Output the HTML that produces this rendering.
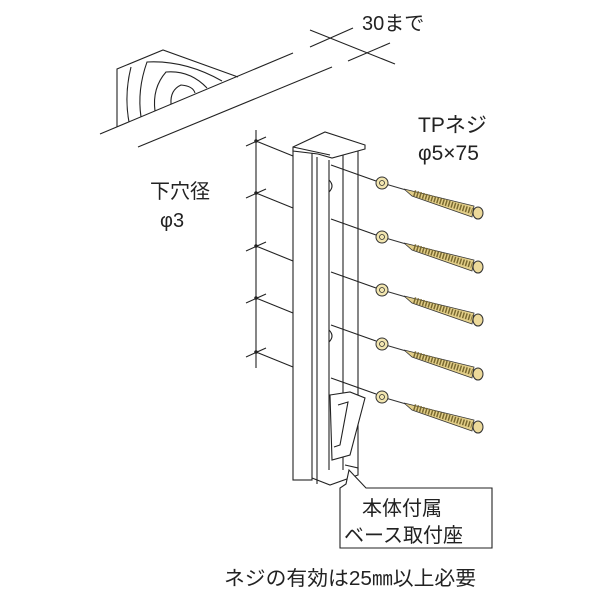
<!DOCTYPE html>
<html><head><meta charset="utf-8"><style>
body{margin:0;background:#fff;width:600px;height:600px;overflow:hidden}
svg{display:block}
text{font-family:"Liberation Sans","Noto Sans CJK JP",sans-serif;fill:#222}
</style></head><body>
<svg width="600" height="600" viewBox="0 0 600 600" xmlns="http://www.w3.org/2000/svg">
<defs>
<g id="scr">
  <line x1="0" y1="0" x2="24" y2="7" stroke="#333" stroke-width="1"/>
  <circle cx="0" cy="0" r="6" fill="#f2e6b0" stroke="#333" stroke-width="1"/>
  <circle cx="0" cy="0" r="2.5" fill="none" stroke="#333" stroke-width="0.8"/>
  <polygon points="22,6 92,23 90,34 30,13" fill="#e3cf8a" stroke="#333" stroke-width="0.8"/>
  <path d="M32,10 L90,28" stroke="#7a6a30" stroke-width="6" stroke-dasharray="1.5 1.5"/>
  <ellipse cx="96" cy="30" rx="5" ry="6" fill="#ecd99a" stroke="#333" stroke-width="1"/>
</g>
</defs>
<g stroke="#222" stroke-width="1.1" fill="none">
<line x1="100" y1="134" x2="293" y2="53"/>
<line x1="138" y1="147" x2="332" y2="67"/>
<polyline points="117,127 117,69 163,50 238,77"/>
<path d="M129,122 Q124,95 131,67"/>
<path d="M141,117 Q137,90 147,62 Q185,60 222,81"/>
<path d="M155,111 Q152,88 166,72 Q190,70 207,88"/>
<path d="M171,104 Q170,90 181,85 Q193,86 195,93"/>
<line x1="310" y1="47" x2="353" y2="28"/>
<line x1="348" y1="61" x2="390" y2="43"/>
<line x1="310" y1="30" x2="395" y2="64"/>
<line x1="256" y1="130" x2="256" y2="368"/>
<g>
<line x1="246" y1="146" x2="266" y2="137"/><line x1="256" y1="141" x2="293" y2="156"/>
<line x1="246" y1="198" x2="266" y2="189"/><line x1="256" y1="193" x2="293" y2="208"/>
<line x1="246" y1="251" x2="266" y2="242"/><line x1="256" y1="246" x2="293" y2="261"/>
<line x1="246" y1="303" x2="266" y2="294"/><line x1="256" y1="298" x2="293" y2="313"/>
<line x1="246" y1="357" x2="266" y2="348"/><line x1="256" y1="352" x2="293" y2="367"/>
</g>
<g fill="#222" stroke="none">
<circle cx="256" cy="141" r="1.8"/><circle cx="256" cy="193" r="1.8"/><circle cx="256" cy="246" r="1.8"/><circle cx="256" cy="298" r="1.8"/><circle cx="256" cy="352" r="1.8"/>
</g>
<rect x="293" y="150" width="19" height="330" fill="#fff"/>
<line x1="317" y1="157" x2="317" y2="484"/>
<line x1="329" y1="160" x2="329" y2="470"/>
<line x1="343" y1="154" x2="343" y2="470"/>
<line x1="358" y1="148" x2="358" y2="470"/>
<path d="M293,147 L325,132 L365,145 L365,149 L332,158 L318,154 L293,151 Z" fill="#fff"/>
<line x1="293" y1="147" x2="330" y2="155"/>
<path d="M329,180 q6,6 0,12 M329,330 q6,6 0,12"/>
<path d="M330,395 L350,392 L365,398 L350,455 L332,460 Z" fill="#fff"/>
<path d="M338,405 L348,402 L340,445 L334,447"/>
<path d="M312,478 L330,485 L358,475 L358,468 L345,465"/>
<line x1="331" y1="165" x2="376" y2="181"/>
<line x1="331" y1="219" x2="376" y2="235"/>
<line x1="331" y1="272" x2="376" y2="288"/>
<line x1="331" y1="325" x2="376" y2="341"/>
<line x1="331" y1="378" x2="376" y2="394"/>
<path d="M349,470 L346,484 L340,488 L340,548 L492,548 L492,488 L366,488 Z" fill="#fff"/>
</g>
<use href="#scr" x="382" y="183"/>
<use href="#scr" x="382" y="237"/>
<use href="#scr" x="382" y="290"/>
<use href="#scr" x="382" y="344"/>
<use href="#scr" x="382" y="397"/>
<text x="362" y="30" font-size="20">30まで</text>
<text x="418" y="132" font-size="21">TPネジ</text>
<text x="418" y="160" font-size="21">φ5×75</text>
<text x="150" y="198" font-size="20">下穴径</text>
<text x="160" y="227" font-size="20">φ3</text>
<text x="362" y="515" font-size="20">本体付属</text>
<text x="344" y="542" font-size="20">ベース取付座</text>
<text x="224" y="585" font-size="20" textLength="252" lengthAdjust="spacingAndGlyphs">ネジの有効は25㎜以上必要</text>
</svg>
</body></html>
